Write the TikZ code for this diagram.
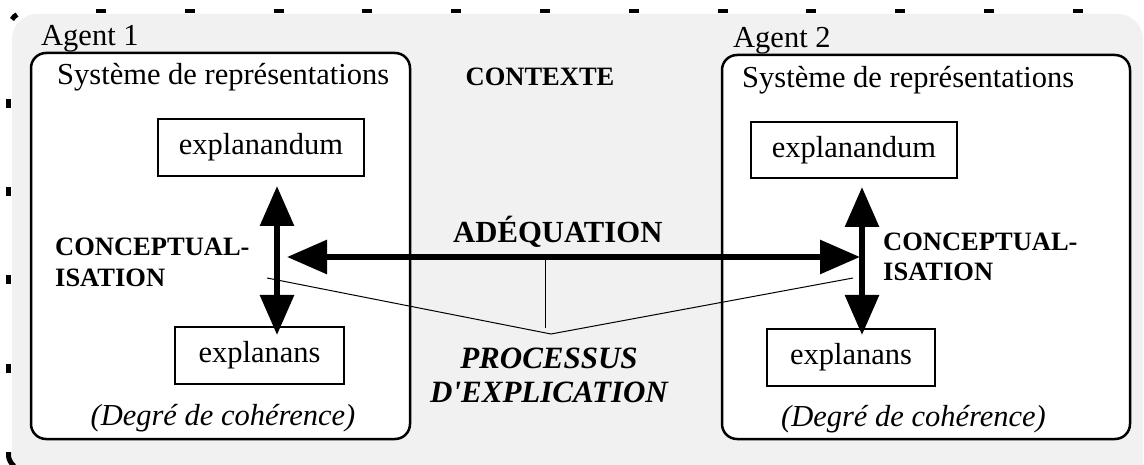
\documentclass[tikz,border=0pt]{standalone}
\usepackage{fontspec}
\setmainfont{Liberation Serif}
\usetikzlibrary{arrows.meta}
\definecolor{fond}{RGB}{241,241,241}

\begin{document}
\begin{tikzpicture}[x=1pt,y=-1pt,
    every node/.style={inner sep=0pt},
    txt/.style={font=\fontsize{30.5}{34}\selectfont},
    titre/.style={font=\fontsize{26.5}{31}\selectfont\bfseries},
    agentbox/.style={draw,line width=2.5pt,fill=white,rounded corners=15pt},
    termbox/.style={draw,line width=2pt,fill=white,txt},
    big/.style={line width=6pt,{Triangle[length=40pt,width=33pt]}-{Triangle[length=40pt,width=33pt]}},
    fin/.style={line width=1pt}]
    \useasboundingbox (0,0) rectangle (1144,465);
    \fill[fond,rounded corners=25pt] (12,14) rectangle (1143,490);
    \foreach \i in {0,...,11}
        \fill ({96+88.8*\i},9) rectangle +(10,4.5);
    \foreach \j in {104,192,280,368}
        \fill (6,{\j-4.5}) rectangle +(5,9);
    \draw[line width=5pt] (12,19.5) .. controls (13.5,17) and (15,15.5) .. (17,14.6);
    \draw[line width=5pt] (8.5,452) -- (8.5,455) .. controls (8.5,459) and (10.5,463) .. (14,466);

    \node[agentbox,minimum width=379pt,minimum height=386pt] (agent1) at (220.5,246) {};
    \node[agentbox,minimum width=408pt,minimum height=384pt] (agent2) at (926,247) {};
    \node[txt,anchor=base west] (nom1) at (41,45.5) {Agent 1};
    \node[txt,anchor=base west] (nom2) at (733,47.5) {Agent 2};
    \node[txt,anchor=base west] (sys1) at (57,85) {Système de représentations};
    \node[txt,anchor=base west] (sys2) at (742,88) {Système de représentations};
    \node[titre,anchor=base] (ctx) at (540,86) {CONTEXTE};

    \node[termbox,minimum width=206pt,minimum height=57pt] (nd1) at (261,147.5) {explanandum};
    \node[termbox,minimum width=206pt,minimum height=56pt] (nd2) at (854,150) {explanandum};
    \node[termbox,minimum width=169pt,minimum height=57pt] (ns1) at (259.5,355.5) {explanans};
    \node[termbox,minimum width=168pt,minimum height=57pt] (ns2) at (851,357.5) {explanans};

    \coordinate (c1a) at (277,186);
    \coordinate (c1b) at (277,335);
    \coordinate (c2a) at (862,187);
    \coordinate (c2b) at (862,335);
    \coordinate (adq1) at (287,257);
    \coordinate (adq2) at (860,257);
    \coordinate (lien1) at (267,278);
    \coordinate (lien2) at (853,278);
    \coordinate (pointe) at (551,334);
    \coordinate (adqmid) at (545,257);
    \coordinate (adqbas) at (545,328);

    \draw[fin] (lien1) -- (pointe) -- (lien2);
    \draw[fin] (adqmid) -- (adqbas);
    \draw[big] (c1a) -- (c1b);
    \draw[big] (c2a) -- (c2b);
    \draw[big] (adq1) -- (adq2);

    % two-line labels: base sits on the last line
    \node[titre,anchor=base west,align=left] (conc1) at (55,287) {CONCEPTUAL-\\ISATION};
    \node[titre,anchor=base west,align=left] (conc2) at (883,281) {CONCEPTUAL-\\ISATION};
    \node[font=\fontsize{30.7}{34}\selectfont\bfseries,anchor=base west] (adeq) at (453,243) {ADÉQUATION};
    \node[font=\fontsize{31}{34}\selectfont\bfseries\itshape,anchor=base,align=center] (proc) at (549,402)
        {PROCESSUS\\D\textquotesingle EXPLICATION};
    \node[txt,anchor=base] (coh1) at (223,425) {\itshape (Degré de cohérence)};
    \node[txt,anchor=base] (coh2) at (913.5,426) {\itshape (Degré de cohérence)};
\end{tikzpicture}
\end{document}
